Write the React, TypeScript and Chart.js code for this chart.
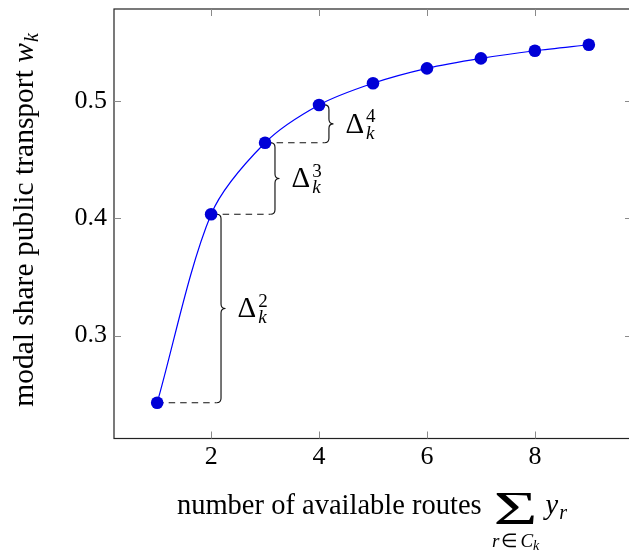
import React, { useEffect, useRef } from "react";
import { Chart, registerables } from "chart.js";

Chart.register(...registerables);

// ---- data ----
const routes = [1, 2, 3, 4, 5, 6, 7, 8, 9];
const modalShare = [0.2427, 0.4034, 0.4644, 0.4966, 0.5151, 0.5278, 0.5363, 0.5428, 0.5479];
const xTickValues = [2, 4, 6, 8];
const yTickValues = [0.3, 0.4, 0.5];
const braceSteps = [2, 3, 4]; // Δ_k^n drawn between route n-1 and route n
const xMin = 0.2;
const xMax = 9.8;
const yMin = 0.2122;
const yMax = 0.5784;
const braceOffset = 0.1;

const yTitleMain = "modal share public transport ";
const yTitleVar = "w";
const yTitleSub = "k";
const xTitleMain = "number of available routes";
const SERIF = "'Liberation Serif', 'Times New Roman', serif";

function drawBrace(ctx: CanvasRenderingContext2D, x: number, yb: number, yt: number, a: number) {
  const ym = (yb + yt) / 2;
  const h = a / 2;
  ctx.beginPath();
  ctx.moveTo(x, yb);
  ctx.quadraticCurveTo(x + h, yb, x + h, yb - h);
  ctx.lineTo(x + h, ym + h);
  ctx.quadraticCurveTo(x + h, ym, x + a, ym);
  ctx.quadraticCurveTo(x + h, ym, x + h, ym - h);
  ctx.lineTo(x + h, yt + h);
  ctx.quadraticCurveTo(x + h, yt, x, yt);
  ctx.stroke();
}

const annotatePlugin = {
  id: "annotate",
  beforeDatasetsDraw(chart: any) {
    const { ctx, scales } = chart;
    const xs = scales.x;
    const ys = scales.y;
    ctx.save();
    ctx.strokeStyle = "#111";
    ctx.lineWidth = 1.15;
    braceSteps.forEach((n) => {
      const i = routes.indexOf(n);
      const x0 = xs.getPixelForValue(routes[i - 1]);
      const xe = xs.getPixelForValue(routes[i] + braceOffset);
      const yb = ys.getPixelForValue(modalShare[i - 1]);
      const yt = ys.getPixelForValue(modalShare[i]);
      ctx.setLineDash([6.5, 5]);
      ctx.beginPath();
      ctx.moveTo(x0, yb);
      ctx.lineTo(xe, yb);
      ctx.stroke();
      ctx.setLineDash([]);
      drawBrace(ctx, xe, yb, yt, 9);
    });
    ctx.restore();
  },
  afterDraw(chart: any) {
    const { ctx, chartArea: ca, scales } = chart;
    const xs = scales.x;
    const ys = scales.y;
    ctx.save();
    // box
    ctx.strokeStyle = "#222";
    ctx.lineWidth = 1.2;
    ctx.strokeRect(ca.left, ca.top, ca.right - ca.left, ca.bottom - ca.top);
    // inward ticks
    ctx.strokeStyle = "#8a8a8a";
    ctx.lineWidth = 1;
    const tl = 7;
    xTickValues.forEach((v) => {
      const px = Math.round(xs.getPixelForValue(v)) + 0.5;
      ctx.beginPath();
      ctx.moveTo(px, ca.bottom);
      ctx.lineTo(px, ca.bottom - tl);
      ctx.moveTo(px, ca.top);
      ctx.lineTo(px, ca.top + tl);
      ctx.stroke();
    });
    yTickValues.forEach((v) => {
      const py = Math.round(ys.getPixelForValue(v)) + 0.5;
      ctx.beginPath();
      ctx.moveTo(ca.left, py);
      ctx.lineTo(ca.left + tl, py);
      ctx.moveTo(ca.right, py);
      ctx.lineTo(ca.right - tl, py);
      ctx.stroke();
    });

    ctx.fillStyle = "#000";
    ctx.textAlign = "left";
    ctx.textBaseline = "alphabetic";

    // Δ labels
    braceSteps.forEach((n) => {
      const i = routes.indexOf(n);
      const xe = xs.getPixelForValue(routes[i] + braceOffset);
      const yb = ys.getPixelForValue(modalShare[i - 1]);
      const yt = ys.getPixelForValue(modalShare[i]);
      const ym = (yb + yt) / 2;
      const lx = xe + 9 + 12;
      ctx.font = `29px ${SERIF}`;
      ctx.fillText("Δ", lx, ym + 9);
      const dw = ctx.measureText("Δ").width;
      ctx.font = `19px ${SERIF}`;
      ctx.fillText(String(n), lx + dw + 2, ym - 1.5);
      ctx.font = `italic 19px ${SERIF}`;
      ctx.fillText("k", lx + dw + 2, ym + 15);
    });

    // y axis title (rotated)
    {
      const cy = 220;
      ctx.save();
      ctx.translate(33, cy);
      ctx.rotate(-Math.PI / 2);
      ctx.font = `29.5px ${SERIF}`;
      const w1 = ctx.measureText(yTitleMain).width;
      ctx.font = `italic 29.5px ${SERIF}`;
      const w2 = ctx.measureText(yTitleVar).width;
      ctx.font = `italic 20px ${SERIF}`;
      const w3 = ctx.measureText(yTitleSub).width;
      const total = w1 + w2 + w3 + 1;
      let px = -total / 2;
      ctx.font = `29.5px ${SERIF}`;
      ctx.fillText(yTitleMain, px, 0);
      px += w1;
      ctx.font = `italic 29.5px ${SERIF}`;
      ctx.fillText(yTitleVar, px, 0);
      px += w2 + 1;
      ctx.font = `italic 20px ${SERIF}`;
      ctx.fillText(yTitleSub, px, 5);
      ctx.restore();
    }

    // x axis title
    {
      const cx = 372;
      const base = 514;
      const F = 28.5;
      ctx.font = `${F}px ${SERIF}`;
      const w1 = ctx.measureText(xTitleMain).width;
      const gap1 = 12;
      const sumW = 44;
      const gap2 = 8;
      ctx.font = `italic ${F}px ${SERIF}`;
      const wy = ctx.measureText("y").width;
      ctx.font = `italic 20px ${SERIF}`;
      const wr = ctx.measureText("r").width;
      const total = w1 + gap1 + sumW + gap2 + wy + 1 + wr;
      let px = cx - total / 2;
      ctx.font = `${F}px ${SERIF}`;
      ctx.fillText(xTitleMain, px, base);
      px += w1 + gap1;
      const sumCx = px + sumW / 2;
      // big sum
      ctx.save();
      ctx.font = `46px ${SERIF}`;
      const sm = ctx.measureText("Σ").width;
      ctx.translate(sumCx, base + 10);
      ctx.scale(sumW / sm, 1);
      ctx.textAlign = "center";
      ctx.fillText("Σ", 0, 0);
      ctx.restore();
      px += sumW + gap2;
      ctx.font = `italic ${F}px ${SERIF}`;
      ctx.fillText("y", px, base);
      px += wy + 1;
      ctx.font = `italic 20px ${SERIF}`;
      ctx.fillText("r", px, base + 5);
      // subscript under sum: r ∈ C_k
      const parts: [string, string, number][] = [
        ["r", `italic 19px ${SERIF}`, 0],
        ["∈", `19px ${SERIF}`, 0],
        ["C", `italic 19px ${SERIF}`, 0],
        ["k", `italic 14px ${SERIF}`, 3],
      ];
      const widths = parts.map(([t, f]) => {
        ctx.font = f;
        return ctx.measureText(t).width;
      });
      const sp = [0, 2, 2, 0];
      const tw = widths.reduce((s, w) => s + w, 0) + sp.reduce((s, w) => s + w, 0);
      let sx = sumCx - tw / 2;
      parts.forEach(([t, f, dy], k) => {
        sx += sp[k];
        ctx.font = f;
        ctx.fillText(t, sx, 547 + dy);
        sx += widths[k];
      });
    }
    ctx.restore();
  },
};

export default function App() {
  const canvasRef = useRef<HTMLCanvasElement | null>(null);

  useEffect(() => {
    const canvas = canvasRef.current;
    if (!canvas) return;
    const chart = new Chart(canvas, {
      type: "line",
      data: {
        datasets: [
          {
            data: routes.map((r, i) => ({ x: r, y: modalShare[i] })),
            borderColor: "#0000ff",
            borderWidth: 1.2,
            tension: 0.3,
            pointRadius: 6.3,
            pointHoverRadius: 6.3,
            pointBackgroundColor: "rgb(0,0,215)",
            pointBorderWidth: 0,
            fill: false,
          },
        ],
      },
      options: {
        responsive: false,
        animation: false,
        devicePixelRatio: 1,
        layout: { padding: { top: 9, right: 8, left: 0, bottom: 0 } },
        plugins: { legend: { display: false }, tooltip: { enabled: false } },
        scales: {
          x: {
            type: "linear",
            min: xMin,
            max: xMax,
            grid: { display: false, drawTicks: false },
            border: { display: false },
            afterBuildTicks: (s: any) => {
              s.ticks = xTickValues.map((v) => ({ value: v }));
            },
            afterFit: (s: any) => {
              s.height = 111.5;
              s.paddingLeft = 0;
              s.paddingRight = 0;
            },
            ticks: {
              padding: 3,
              color: "#000",
              font: { family: SERIF, size: 26 },
              callback: (v: any) => String(v),
              maxRotation: 0,
            },
          },
          y: {
            type: "linear",
            min: yMin,
            max: yMax,
            grid: { display: false, drawTicks: false },
            border: { display: false },
            afterBuildTicks: (s: any) => {
              s.ticks = yTickValues.map((v) => ({ value: v }));
            },
            afterFit: (s: any) => {
              s.width = 114;
              s.paddingTop = 0;
              s.paddingBottom = 0;
            },
            ticks: {
              padding: 7,
              color: "#000",
              font: { family: SERIF, size: 26 },
              callback: (v: any) => Number(v).toFixed(1),
            },
          },
        },
      },
      plugins: [annotatePlugin],
    });
    return () => chart.destroy();
  }, []);

  return (
    <div
      style={{
        position: "fixed",
        left: 0,
        top: 0,
        width: 629,
        height: 550,
        overflow: "hidden",
        background: "#fff",
      }}
    >
      <canvas ref={canvasRef} width={640} height={550} style={{ width: 640, height: 550, display: "block" }} />
    </div>
  );
}
